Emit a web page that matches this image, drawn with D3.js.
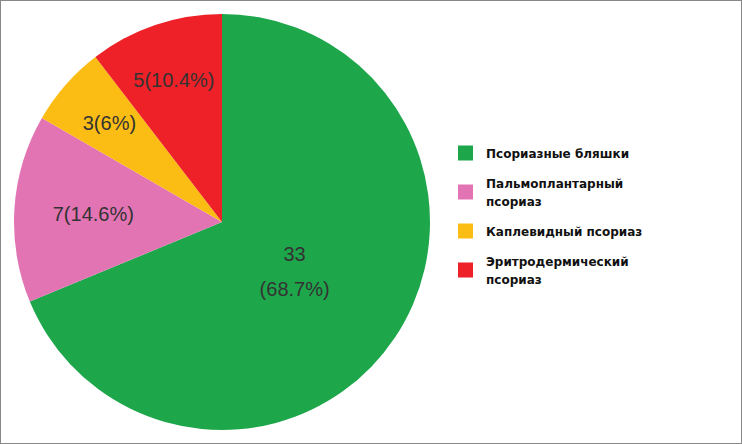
<!DOCTYPE html>
<html><head><meta charset="utf-8">
<script src="https://cdn.jsdelivr.net/npm/d3@7"></script>
<style>body{margin:0;background:#fff}svg{display:block}</style>
</head><body>
<script>
const categories = ["Псориазные бляшки","Пальмоплантарный псориаз","Каплевидный псориаз","Эритродермический псориаз"];
const values = [33, 7, 3, 5];
const pctLabels = ["68.7%","14.6%","6%","10.4%"];
const colors = ["#1ea64b","#e274b4","#fbbd14","#ee2128"];
const legendLines = [["Псориазные бляшки"],["Пальмоплантарный","псориаз"],["Каплевидный псориаз"],["Эритродермический","псориаз"]];

const W=742,H=444,cx=222,cy=222,r=208;
const svg=d3.select("body").append("svg").attr("width",W).attr("height",H);
svg.append("rect").attr("x",0.5).attr("y",0.5).attr("width",W-1).attr("height",H-1).attr("fill","#fff").attr("stroke","#888");
const pie=d3.pie().sort(null).value(d=>d)(values);
const arc=d3.arc().innerRadius(0).outerRadius(r);
const g=svg.append("g").attr("transform",`translate(${cx},${cy})`);
g.selectAll("path").data(pie).join("path").attr("d",arc).attr("fill",(d,i)=>colors[i]);
const labelPos=[[57,50,true],[-104,-7],[-132,-94],[-54,-144]];
pie.forEach((d,i)=>{
  const a=(d.startAngle+d.endAngle)/2;
  const lr=[0.42,0.62,0.72,0.72][i];
  const x=Math.sin(a)*r*lr, y=-Math.cos(a)*r*lr;
  const t=g.append("text").attr("text-anchor","middle").attr("font-family","Liberation Sans, Arial, sans-serif").attr("font-size",20).attr("fill","#333");
  if(i===0){
    t.append("tspan").attr("x",x).attr("y",y-10).text(values[i]);
    t.append("tspan").attr("x",x).attr("y",y+25).text("("+pctLabels[i]+")");
  } else {
    t.attr("x",x).attr("y",y+7).text(values[i]+"("+pctLabels[i]+")");
  }
});
const lg=svg.append("g");
const rowsY=[153,183,231,261];
legendLines.forEach((lines,i)=>{
  const y=rowsY[i];
  const mid = y + (lines.length-1)*9;
  lg.append("rect").attr("x",458).attr("y",mid-7.5).attr("width",15).attr("height",15).attr("fill",colors[i]);
  lines.forEach((l,j)=>lg.append("text").attr("x",486).attr("y",y+5+j*18).attr("font-family","DejaVu Sans, sans-serif").attr("font-weight","bold").attr("font-size",12).attr("fill","#111").text(l));
});
</script>
</body></html>
